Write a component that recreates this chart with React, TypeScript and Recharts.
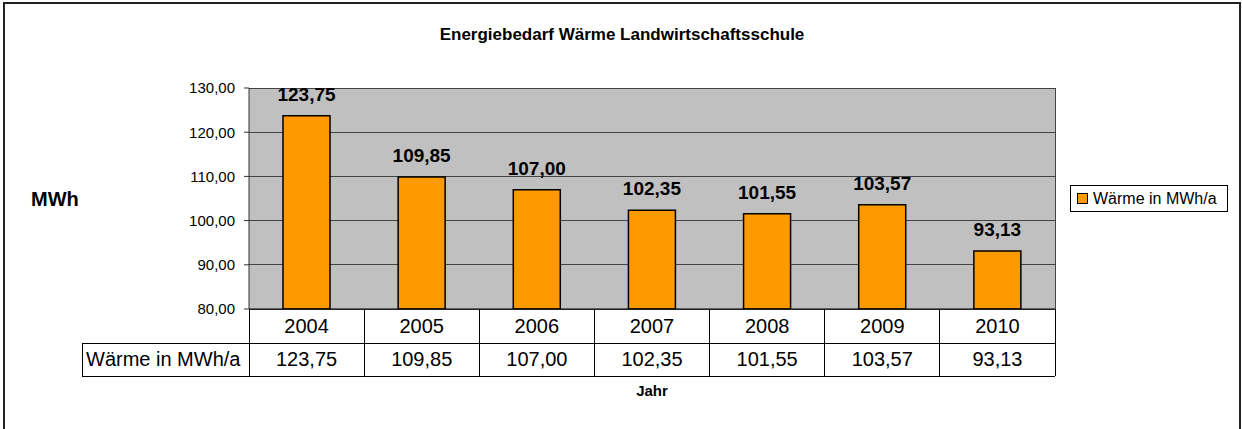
import React from 'react';
import { BarChart, Bar, XAxis, YAxis, CartesianGrid, LabelList, Legend } from 'recharts';

const title = 'Energiebedarf Wärme Landwirtschaftsschule';
const seriesName = 'Wärme in MWh/a';
const years = ['2004', '2005', '2006', '2007', '2008', '2009', '2010'];
const waerme = [123.75, 109.85, 107.0, 102.35, 101.55, 103.57, 93.13];
const yTicks = [80, 90, 100, 110, 120, 130];

const W = 1242;
const H = 429;
const PLOT_LEFT = 249;
const PLOT_RIGHT = 1055;
const PLOT_TOP = 88;
const PLOT_BOTTOM = 309;
const Y_AXIS_W = 80;
const X_AXIS_H = 70;
const LABEL_LEFT = 82;
const ROW1 = PLOT_BOTTOM + 34;
const ROW2 = PLOT_BOTTOM + 67;

const fmt = (v: number) => Number(v).toFixed(2).replace('.', ',');

const data = years.map((year, i) => ({ year, value: waerme[i] }));

const band = (PLOT_RIGHT - PLOT_LEFT) / years.length;

// data table drawn under the plot, one column per category tick
const TableTick = (props: any) => {
  const { x, index, payload } = props;
  const left = x - band / 2;
  return (
    <g shapeRendering="crispEdges">
      {index === 0 && (
        <g>
          <rect x={LABEL_LEFT} y={ROW1} width={PLOT_LEFT - LABEL_LEFT} height={ROW2 - ROW1} fill="none" stroke="#000" />
          <line x1={PLOT_LEFT} y1={PLOT_BOTTOM} x2={PLOT_LEFT} y2={ROW2} stroke="#000" />
          <text x={LABEL_LEFT + 4} y={ROW1 + 23} fontSize={20} fill="#000" shapeRendering="auto">
            {seriesName}
          </text>
        </g>
      )}
      <line x1={left + band} y1={PLOT_BOTTOM} x2={left + band} y2={ROW2} stroke="#000" />
      <line x1={left} y1={ROW1} x2={left + band} y2={ROW1} stroke="#000" />
      <line x1={left} y1={ROW2} x2={left + band} y2={ROW2} stroke="#000" />
      <text x={x} y={PLOT_BOTTOM + 24} textAnchor="middle" fontSize={20} fill="#000">
        {payload.value}
      </text>
      <text x={x} y={ROW1 + 23} textAnchor="middle" fontSize={20} fill="#000">
        {fmt(waerme[index])}
      </text>
    </g>
  );
};

const LegendBox = () => (
  <div
    style={{
      border: '1px solid #000',
      height: 27,
      boxSizing: 'border-box',
      display: 'flex',
      alignItems: 'center',
      paddingLeft: 6,
      fontSize: 16,
      background: '#fff',
      color: '#000',
    }}
  >
    <span
      style={{
        display: 'inline-block',
        width: 11,
        height: 11,
        boxSizing: 'border-box',
        background: '#FF9900',
        border: '1px solid #000',
        marginRight: 5,
      }}
    />
    {seriesName}
  </div>
);

export default function App() {
  return (
    <div
      style={{
        position: 'absolute',
        left: 0,
        top: 0,
        width: W,
        height: H,
        overflow: 'hidden',
        background: '#fff',
        fontFamily: '"Liberation Sans", Arial, sans-serif',
      }}
    >
      <div
        style={{
          position: 'absolute',
          left: 3,
          top: 2,
          width: 1238,
          height: 460,
          border: '2px solid #222',
          boxSizing: 'border-box',
        }}
      />
      <BarChart
        width={W}
        height={H}
        data={data}
        margin={{ top: PLOT_TOP, right: W - PLOT_RIGHT, left: PLOT_LEFT - Y_AXIS_W, bottom: H - PLOT_BOTTOM - X_AXIS_H }}
      >
        <CartesianGrid fill="#C0C0C0" stroke="#444" vertical={true} verticalPoints={[PLOT_RIGHT]} shapeRendering="crispEdges" />
        <XAxis
          dataKey="year"
          height={X_AXIS_H}
          interval={0}
          tickLine={false}
          axisLine={{ stroke: '#000' }}
          tick={<TableTick />}
        />
        <YAxis
          type="number"
          domain={[80, 130]}
          ticks={yTicks}
          allowDataOverflow
          width={Y_AXIS_W}
          tickFormatter={fmt}
          tick={{ fontSize: 15, fill: '#000' }}
          tickSize={5}
          tickMargin={9}
          axisLine={{ stroke: '#333' }}
          tickLine={{ stroke: '#333' }}
        />
        <Legend
          layout="horizontal"
          verticalAlign="middle"
          align="center"
          width={158}
          height={27}
          wrapperStyle={{ left: 1070, top: 185 }}
          content={() => <LegendBox />}
        />
        <Bar dataKey="value" name={seriesName} fill="#FF9900" stroke="#000" strokeWidth={1.5} barSize={47} isAnimationActive={false}>
          <LabelList
            dataKey="value"
            position="top"
            offset={15}
            formatter={(v: any) => fmt(v)}
            style={{ fontSize: 19, fontWeight: 'bold', fill: '#000' }}
          />
        </Bar>
        <text x={622} y={40} textAnchor="middle" fontSize={17} fontWeight="bold" fill="#000">
          {title}
        </text>
        <text x={31} y={206} fontSize={20} fontWeight="bold" fill="#000">
          MWh
        </text>
        <text x={(PLOT_LEFT + PLOT_RIGHT) / 2} y={396} textAnchor="middle" fontSize={15} fontWeight="bold" fill="#000">
          Jahr
        </text>
      </BarChart>
    </div>
  );
}
